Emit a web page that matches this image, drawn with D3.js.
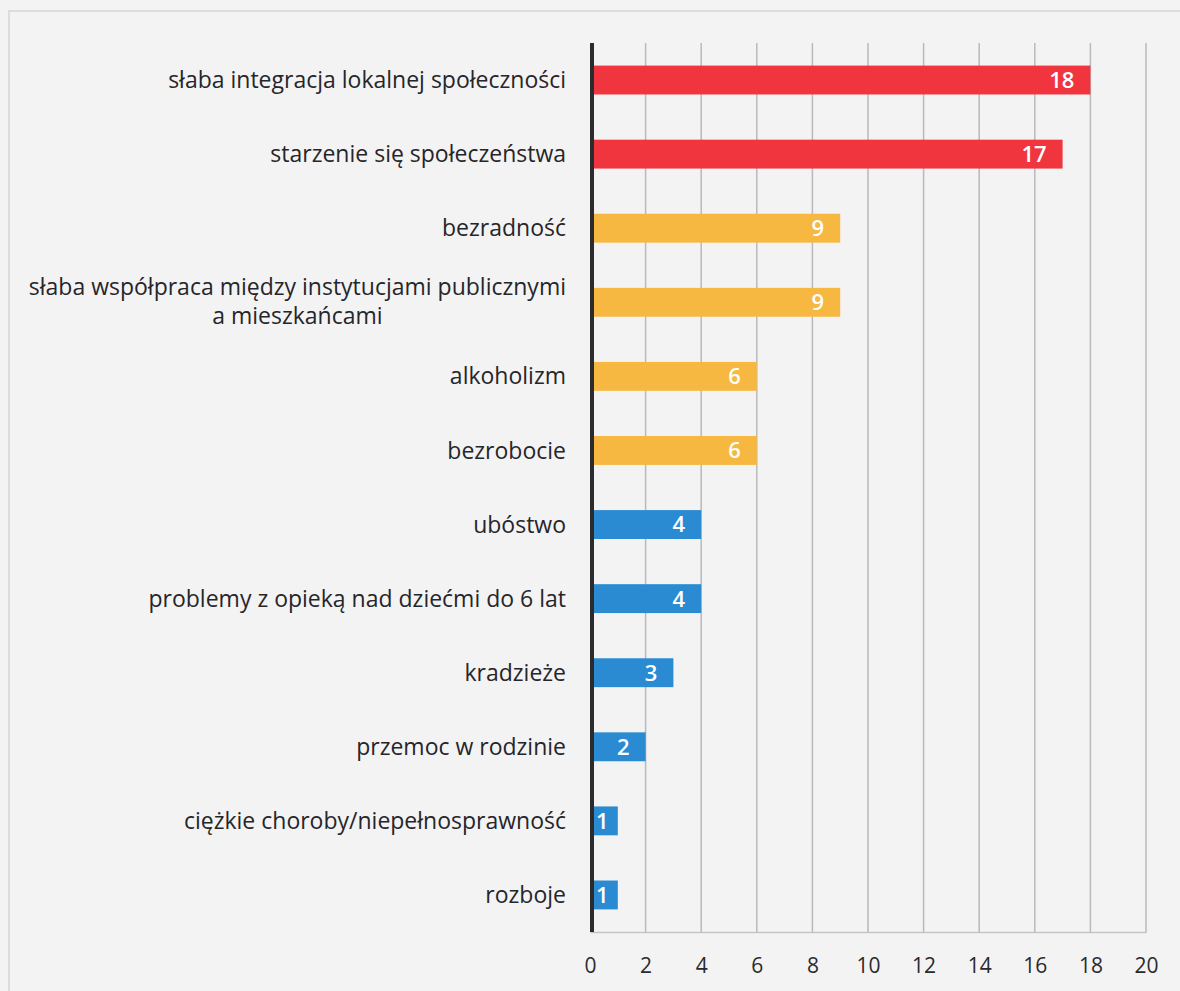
<!DOCTYPE html>
<html>
<head>
<meta charset="utf-8">
<script src="https://cdn.jsdelivr.net/npm/d3@7"></script>
<style>
  body { margin: 0; background: #f4f3f4; }
</style>
</head>
<body>
<div id="chart"></div>
<script>
const categories = [
    "słaba integracja lokalnej społeczności",
    "starzenie się społeczeństwa",
    "bezradność",
    "słaba współpraca między instytucjami publicznymi|a mieszkańcami",
    "alkoholizm",
    "bezrobocie",
    "ubóstwo",
    "problemy z opieką nad dziećmi do 6 lat",
    "kradzieże",
    "przemoc w rodzinie",
    "ciężkie choroby/niepełnosprawność",
    "rozboje"
];
const values = [18, 17, 9, 9, 6, 6, 4, 4, 3, 2, 1, 1];
const xTicks = [0, 2, 4, 6, 8, 10, 12, 14, 16, 18, 20];

const W = 1180, H = 991;
const margin = { top: 43, right: 34, bottom: 59, left: 590 };
const width = W - margin.left - margin.right;
const height = H - margin.top - margin.bottom;
const font = "'Open Sans', Lato, sans-serif";

// colour by size group, as in the original
const barColor = v => v >= 15 ? "#f0353f" : (v >= 5 ? "#f6b841" : "#2a8bd3");

const root = d3.select("#chart").append("svg")
    .attr("width", W)
    .attr("height", H);

// faint frame from the scanned page
root.append("path")
    .attr("d", `M9,${H} L9,11 L${W},11`)
    .attr("fill", "none")
    .attr("stroke", "#d4d3d6")
    .attr("stroke-width", 1.5);

const svg = root.append("g")
    .attr("transform", `translate(${margin.left},${margin.top})`);

const x = d3.scaleLinear().domain([0, 20]).range([0, width]);
const y = d3.scaleBand().domain(categories).range([0, height]).paddingInner(0.61).paddingOuter(0.305);

// vertical gridlines
svg.append("g")
    .selectAll("line")
    .data(xTicks.slice(1))
    .enter().append("line")
    .attr("x1", d => x(d)).attr("x2", d => x(d))
    .attr("y1", 0).attr("y2", height)
    .attr("stroke", "#b9b8bd")
    .attr("stroke-width", 1.5);

// bottom axis
const xAxis = svg.append("g")
    .attr("transform", `translate(0,${height})`)
    .call(d3.axisBottom(x).tickValues(xTicks).tickSize(0).tickPadding(26));
xAxis.select(".domain").attr("stroke", "#c4c3c8").attr("stroke-width", 1.5);
xAxis.selectAll(".tick text")
    .style("font-family", font)
    .style("font-size", "21px")
    .attr("fill", "#2a2a2e");

// bars
svg.selectAll("rect.bar")
    .data(values)
    .enter().append("rect")
    .attr("class", "bar")
    .attr("x", 0)
    .attr("y", (d, i) => y(categories[i]))
    .attr("width", d => x(d))
    .attr("height", y.bandwidth())
    .attr("fill", d => barColor(d));

// value labels (inside end, pushed right when the bar is too short)
svg.selectAll("text.val")
    .data(values)
    .enter().append("text")
    .attr("class", "val")
    .attr("y", (d, i) => y(categories[i]) + y.bandwidth() / 2)
    .attr("dy", "0.36em")
    .attr("text-anchor", "end")
    .style("font-family", font)
    .style("font-size", "22px")
    .style("font-weight", "600")
    .attr("fill", "#ffffff")
    .text(d => d)
    .each(function (d) {
        const w = this.getComputedTextLength();
        let xe = x(d) - 16;
        if (xe - w < 6) xe = Math.min(x(d) - 2, 6 + w);
        d3.select(this).attr("x", xe);
    });

// left axis line
svg.append("line")
    .attr("x1", 2).attr("x2", 2)
    .attr("y1", 0).attr("y2", height)
    .attr("stroke", "#2b2b2e")
    .attr("stroke-width", 4);

// category labels
svg.selectAll("text.cat")
    .data(categories)
    .enter().append("text")
    .attr("class", "cat")
    .attr("y", d => y(d) + y.bandwidth() / 2)
    .style("font-family", font)
    .style("font-size", "23px")
    .attr("fill", "#26262a")
    .each(function (d) {
        const lines = d.split("|");
        const t = d3.select(this);
        if (lines.length === 1) {
            t.attr("text-anchor", "end").attr("x", -24).attr("dy", "0.35em").text(d);
        } else {
            t.attr("text-anchor", "middle");
            const first = t.append("tspan").attr("dy", "-0.33em").text(lines[0]);
            const cx = -24 - first.node().getComputedTextLength() / 2;
            first.attr("x", cx);
            lines.slice(1).forEach(ln => {
                t.append("tspan").attr("x", cx).attr("dy", "1.27em").text(ln);
            });
        }
    });
</script>
</body>
</html>
